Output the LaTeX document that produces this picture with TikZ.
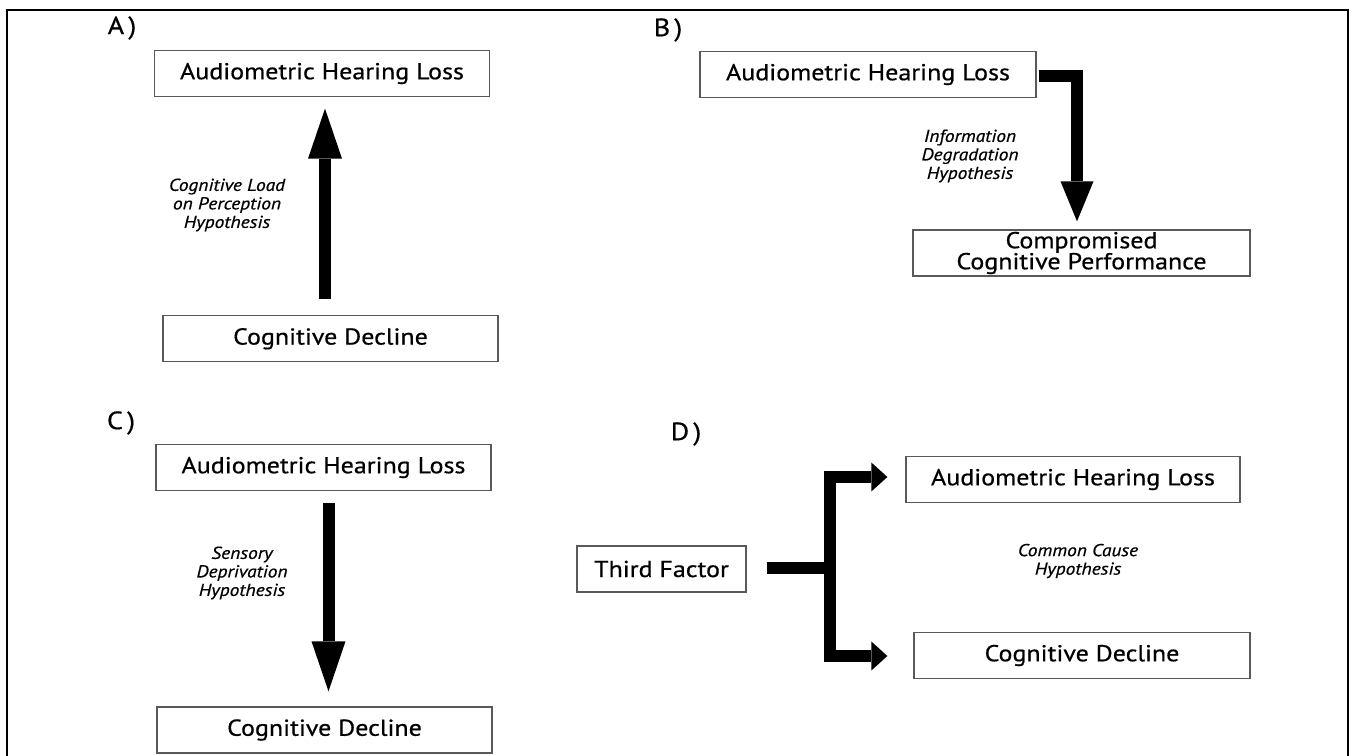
\documentclass[tikz,border=0pt]{standalone}
\usepackage{fontspec}
\setmainfont{PT Sans}[FakeStretch=1.13, FakeBold=0.6]
\usetikzlibrary{arrows.meta, positioning}

\begin{document}
\begin{tikzpicture}[
x=1pt, y=1pt,
boxnode/.style={rectangle, draw=black!65, line width=1.3pt, minimum width=335pt, minimum height=46pt, inner sep=0pt, align=center, font=\fontsize{23}{21}\selectfont},
hyponode/.style={align=center, font=\fontsize{17.2}{18.5}\selectfont\itshape},
panelnode/.style={font=\fontsize{25}{25}\selectfont},
fatarrow/.style={line width=12pt, line join=miter, -{Triangle[width=34pt, length=50pt, line width=0pt]}},
forkarrow/.style={line width=12pt, line join=miter, -{Triangle[width=29pt, length=16pt, line width=0pt]}}
]
\useasboundingbox (0,0) rectangle (1352,755);

% frame
\draw[line width=2pt] (7,-5) -- (7,745) -- (1348,745) -- (1348,-5);

% panel letters
\node[panelnode] (lbl_a) at (122,727) {A\,)};
\node[panelnode] (lbl_b) at (668,725) {B\,)};
\node[panelnode] (lbl_c) at (121,332) {C\,)};
\node[panelnode] (lbl_d) at (686,321) {D\,)};

% A
\node[boxnode] (box_a1) at (322,681.5) {Audiometric Hearing Loss};
\node[boxnode] (box_a2) [below=218pt of box_a1, xshift=8.5pt] {Cognitive Decline};
\node[hyponode] (hyp_a) at (227,550) {Cognitive Load\\on Perception\\Hypothesis};
\draw[fatarrow] ([xshift=-5.5pt, yshift=16pt]box_a2.north) -- ([xshift=3pt, yshift=-11.5pt]box_a1.south);

% B
\node[boxnode, minimum width=336pt] (box_b1) at (868,680.5) {Audiometric Hearing Loss};
\node[boxnode, minimum width=337pt] (box_b2) at (1081.5,502) {Compromised\\Cognitive Performance};
\node[hyponode] (hyp_b) at (970,599) {Information\\Degradation\\Hypothesis};
\draw[fatarrow, -{Triangle[width=33pt, length=40pt, line width=0pt]}] ([xshift=2pt, yshift=-1.5pt]box_b1.east) -| ([xshift=-4.5pt, yshift=8pt]box_b2.north);

% C
\node[boxnode] (box_c1) at (323.5,287.5) {Audiometric Hearing Loss};
\node[boxnode] (box_c2) at (324.5,25) {Cognitive Decline};
\node[hyponode] (hyp_c) at (242,182) {Sensory\\Deprivation\\Hypothesis};
\draw[fatarrow] ([xshift=5pt, yshift=-12pt]box_c1.south) -- ([xshift=4pt, yshift=15pt]box_c2.north);

% D
\node[boxnode, minimum width=169pt] (box_d0) at (661.5,186) {Third Factor};
\node[boxnode, minimum width=334pt] (box_d1) at (1073,275.5) {Audiometric Hearing Loss};
\node[boxnode, minimum width=336pt] (box_d2) at (1082,99.5) {Cognitive Decline};
\node[hyponode] (hyp_d) at (1078,194) {Common Cause\\Hypothesis};
\coordinate (fork) at ([xshift=83pt, yshift=1pt]box_d0.east);
\draw[line width=12pt] ([xshift=20pt, yshift=1pt]box_d0.east) -- (fork);
\draw[forkarrow] (fork) |- ([xshift=-18pt, yshift=2.5pt]box_d1.west);
\draw[forkarrow] (fork) |- ([xshift=-26pt, yshift=-0.5pt]box_d2.west);

\end{tikzpicture}
\end{document}
